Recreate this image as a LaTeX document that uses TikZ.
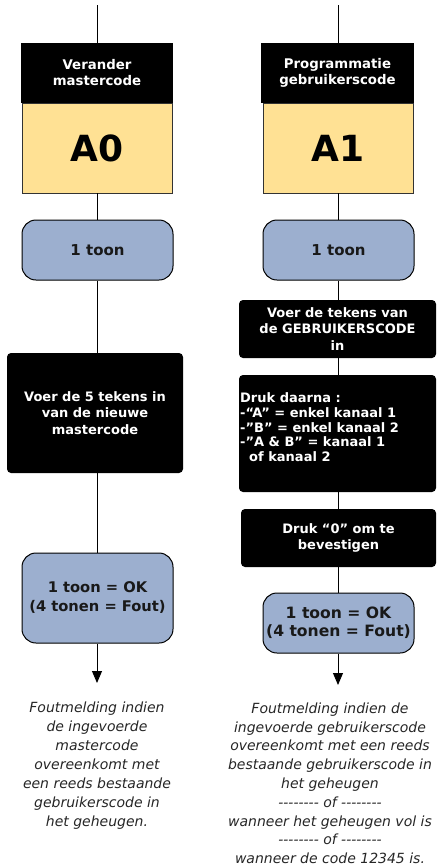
\documentclass[tikz,border=0pt]{standalone}
\usepackage{fontspec}
\setmainfont{DejaVu Sans}
\usetikzlibrary{arrows.meta}
\definecolor{codeyellow}{HTML}{FFE194}
\definecolor{toneblue}{HTML}{9CAFCF}
\newcommand\mydashes{-{}-{}-{}-{}-{}-{}-{}-}
\begin{document}
\begin{tikzpicture}[x=1pt,y=-1pt,
  conn/.style={line width=0.9pt,black},
  arr/.style={conn,-{Triangle[length=12pt,width=10pt]}},
  hdr/.style={fill=black,text=white,inner sep=0pt,align=center,
    font=\bfseries\fontsize{13.3}{16}\selectfont},
  codebox/.style={fill=codeyellow,draw=black!80,line width=0.8pt,inner sep=0pt,
    font=\bfseries\fontsize{36}{40}\selectfont},
  tonebox/.style={fill=toneblue,draw=black,line width=1pt,rounded corners=14pt,
    inner sep=0pt,align=center,text=black!90},
  stepbox/.style={fill=black,text=white,rounded corners=4pt,inner sep=1pt,
    font=\bfseries\fontsize{13}{16.5}\selectfont},
  note/.style={inner sep=0pt,align=center,text=black!85,
    font=\itshape\fontsize{14}{18.8}\selectfont}]
\useasboundingbox (0,0) rectangle (437,868);

% ---------- left column ----------
\coordinate (topA) at (97,5);
\node[hdr,minimum width=152pt,minimum height=60pt] (hdrA) at (97,73)
  {Verander\\mastercode};
\node[codebox,minimum width=150pt,minimum height=90pt] (codeA) at (97,148) {A0};
\node[tonebox,minimum width=151pt,minimum height=60pt,
  font=\bfseries\fontsize{15}{18}\selectfont] (toneA) at (97.5,250) {1 toon};
\node[stepbox,align=center,minimum width=176pt,minimum height=120pt] (stepA) at (95,413)
  {Voer de 5 tekens in\\van de nieuwe\\mastercode};
\node[tonebox,minimum width=151pt,minimum height=90pt,
  font=\bfseries\fontsize{14.7}{19}\selectfont] (okA) at (97.5,598)
  {1 toon = OK\\(4 tonen = Fout)};
\coordinate (endA) at (97,683);
\node[note,anchor=north,font=\itshape\fontsize{14}{19}\selectfont] (noteA) at (97,702)
  {Foutmelding indien\\de ingevoerde\\mastercode\\overeenkomt met\\een reeds bestaande\\gebruikerscode in\\het geheugen.};

\draw[conn] (topA) -- (topA |- hdrA.north);
\draw[conn] (codeA.south) -- (toneA.south |- codeA.south) -- (toneA.north);
\draw[conn] (toneA.south) -- (toneA.south |- stepA.north);
\draw[conn] (toneA.south |- stepA.south) -- (toneA.south |- okA.north);
\draw[arr] (okA.south -| endA) -- (endA);

% ---------- right column ----------
\coordinate (topB) at (338,5);
\node[hdr,minimum width=153pt,minimum height=60pt] (hdrB) at (337.5,73)
  {Programmatie\\gebruikerscode};
\node[codebox,minimum width=150pt,minimum height=90pt] (codeB) at (338,148) {A1};
\node[tonebox,minimum width=151pt,minimum height=60pt,
  font=\bfseries\fontsize{15}{18}\selectfont] (toneB) at (338.5,250) {1 toon};
\node[stepbox,align=center,minimum width=197pt,minimum height=58pt] (s1) at (337.5,329)
  {Voer de tekens van\\de GEBRUIKERSCODE\\in};
\node[stepbox,minimum width=197pt,minimum height=117pt,
  font=\bfseries\fontsize{13}{14.6}\selectfont] (s2) at (337.5,433.5) {};
\node[anchor=north west,inner sep=0pt,text=white,align=left,
  font=\bfseries\fontsize{13}{14.8}\selectfont] (s2t) at (240,392.5)
  {Druk daarna :\\-“A” = enkel kanaal 1\\-”B” = enkel kanaal 2\\-”A \& B” = kanaal 1\\\hspace*{9pt}of kanaal 2};
\node[stepbox,align=center,minimum width=195pt,minimum height=58pt] (s3) at (338.5,538)
  {Druk “0” om te\\bevestigen};
\node[tonebox,minimum width=151pt,minimum height=60pt,
  font=\bfseries\fontsize{15.6}{18}\selectfont] (okB) at (338.5,623)
  {1 toon = OK\\(4 tonen = Fout)};
\coordinate (endB) at (338,685);
\node[note,anchor=north] (noteB) at (330,702.5)
  {Foutmelding indien de\\ingevoerde gebruikerscode\\overeenkomt met een reeds\\bestaande gebruikerscode in\\het geheugen\\\mydashes{} of \mydashes\\wanneer het geheugen vol is\\\mydashes{} of \mydashes\\wanneer de code 12345 is.};

\draw[conn] (topB) -- (topB |- hdrB.north);
\draw[conn] (topB |- codeB.south) -- (topB |- toneB.north);
\draw[conn] (topB |- toneB.south) -- (topB |- s1.north);
\draw[conn] (topB |- s1.south) -- (topB |- s2.north);
\draw[conn] (topB |- s2.south) -- (topB |- s3.north);
\draw[conn] (topB |- s3.south) -- (topB |- okB.north);
\draw[arr] (okB.south -| endB) -- (endB);
\end{tikzpicture}
\end{document}
